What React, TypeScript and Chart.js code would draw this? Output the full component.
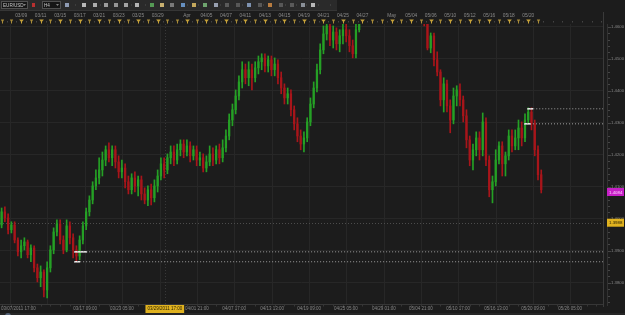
import React, { useEffect, useRef } from "react";
import Chart from "chart.js/auto";

// ---- data (EUR/USD, H4 candles, 3 per trading day) ----
const SYMBOL = "EUR/USD";
const PERIOD = "H4";

const OPEN = [
  1.3981, 1.4022, 1.4003, 1.3966, 1.3981, 1.3934, 1.3897, 1.3916, 1.3928, 1.3888,
  1.3909, 1.3847, 1.3816, 1.3834, 1.3778, 1.3847, 1.3903, 1.3959, 1.3984, 1.3934,
  1.3903, 1.3978, 1.3941, 1.3903, 1.3884, 1.3934, 1.3978, 1.4022, 1.4059, 1.4103,
  1.4128, 1.4153, 1.4184, 1.4216, 1.4191, 1.4216, 1.4178, 1.4147, 1.4159, 1.4116,
  1.4091, 1.4128, 1.4103, 1.4122, 1.4078, 1.4059, 1.4091, 1.4066, 1.4103, 1.4134,
  1.4172, 1.4153, 1.4191, 1.4209, 1.4184, 1.4216, 1.4234, 1.4209, 1.4228, 1.4197,
  1.4216, 1.4184, 1.4191, 1.4159, 1.4178, 1.4203, 1.4184, 1.4216, 1.4191, 1.4222,
  1.4259, 1.4309, 1.4341, 1.4384, 1.4428, 1.4466, 1.4441, 1.4466, 1.4441, 1.4472,
  1.4491, 1.4503, 1.4478, 1.4497, 1.4466, 1.4484, 1.4441, 1.4409, 1.4378, 1.4391,
  1.4341, 1.4297, 1.4259, 1.4234, 1.4253, 1.4303, 1.4359, 1.4409, 1.4466, 1.4528,
  1.4578, 1.4603, 1.4559, 1.4584, 1.4547, 1.4572, 1.4591, 1.4572, 1.4541, 1.4516,
  1.4591, 1.4653, 1.4690, 1.4675, 1.4720, 1.4745, 1.4780, 1.4805, 1.4835, 1.4820,
  1.4860, 1.4850, 1.4875, 1.4920, 1.4890, 1.4835, 1.4775, 1.4720, 1.4690, 1.4665,
  1.4650, 1.4622, 1.4534, 1.4572, 1.4497, 1.4459, 1.4372, 1.4422, 1.4353, 1.4309,
  1.4384, 1.4403, 1.4372, 1.4322, 1.4247, 1.4184, 1.4216, 1.4253, 1.4216, 1.4303,
  1.4184, 1.4091, 1.4116, 1.4184, 1.4228, 1.4172, 1.4197, 1.4259, 1.4228, 1.4253,
  1.4284, 1.4253, 1.4309, 1.4334, 1.4297, 1.4216, 1.4138,
];
const HIGH = [
  1.4034, 1.4038, 1.4016, 1.3991, 1.3991, 1.3941, 1.3934, 1.3941, 1.3934, 1.3919,
  1.3916, 1.3859, 1.3853, 1.3841, 1.3866, 1.3916, 1.3972, 1.3997, 1.3997, 1.3947,
  1.3997, 1.3991, 1.3953, 1.3916, 1.3947, 1.3991, 1.4034, 1.4072, 1.4116, 1.4153,
  1.4191, 1.4209, 1.4228, 1.4238, 1.4228, 1.4228, 1.4197, 1.4184, 1.4172, 1.4134,
  1.4141, 1.4147, 1.4134, 1.4134, 1.4097, 1.4103, 1.4109, 1.4122, 1.4153, 1.4191,
  1.4191, 1.4203, 1.4228, 1.4228, 1.4234, 1.4247, 1.4247, 1.4247, 1.4241, 1.4228,
  1.4228, 1.4209, 1.4203, 1.4197, 1.4228, 1.4222, 1.4228, 1.4234, 1.4247, 1.4278,
  1.4328, 1.4359, 1.4403, 1.4447, 1.4491, 1.4484, 1.4491, 1.4484, 1.4491, 1.4509,
  1.4516, 1.4516, 1.4509, 1.4509, 1.4503, 1.4497, 1.4459, 1.4422, 1.4409, 1.4403,
  1.4353, 1.4316, 1.4278, 1.4272, 1.4316, 1.4378, 1.4428, 1.4484, 1.4547, 1.4603,
  1.4628, 1.4616, 1.4603, 1.4597, 1.4591, 1.4609, 1.4616, 1.4591, 1.4559, 1.4628,
  1.4684, 1.4705, 1.4720, 1.4730, 1.4760, 1.4790, 1.4820, 1.4850, 1.4880, 1.4870,
  1.4900, 1.4890, 1.4935, 1.4940, 1.4915, 1.4860, 1.4800, 1.4745, 1.4710, 1.4700,
  1.4670, 1.4638, 1.4581, 1.4581, 1.4522, 1.4466, 1.4441, 1.4434, 1.4372, 1.4409,
  1.4416, 1.4422, 1.4384, 1.4341, 1.4259, 1.4234, 1.4272, 1.4272, 1.4331, 1.4316,
  1.4197, 1.4134, 1.4216, 1.4241, 1.4241, 1.4209, 1.4278, 1.4278, 1.4278, 1.4309,
  1.4303, 1.4328, 1.4347, 1.4347, 1.4309, 1.4228, 1.4153,
];
const LOW = [
  1.3972, 1.3991, 1.3953, 1.3956, 1.3925, 1.3884, 1.3878, 1.3903, 1.3878, 1.3866,
  1.3834, 1.3803, 1.3788, 1.3756, 1.3753, 1.3834, 1.3891, 1.3947, 1.3922, 1.3891,
  1.3897, 1.3922, 1.3878, 1.3866, 1.3872, 1.3922, 1.3966, 1.4009, 1.4047, 1.4091,
  1.4109, 1.4134, 1.4166, 1.4178, 1.4166, 1.4159, 1.4128, 1.4128, 1.4097, 1.4078,
  1.4078, 1.4084, 1.4072, 1.4059, 1.4047, 1.4041, 1.4044, 1.4053, 1.4084, 1.4122,
  1.4128, 1.4141, 1.4172, 1.4166, 1.4172, 1.4197, 1.4191, 1.4197, 1.4178, 1.4184,
  1.4166, 1.4166, 1.4147, 1.4147, 1.4166, 1.4166, 1.4172, 1.4172, 1.4178, 1.4209,
  1.4247, 1.4291, 1.4328, 1.4372, 1.4409, 1.4422, 1.4416, 1.4403, 1.4428, 1.4453,
  1.4466, 1.4459, 1.4459, 1.4447, 1.4447, 1.4422, 1.4391, 1.4359, 1.4359, 1.4322,
  1.4278, 1.4241, 1.4216, 1.4209, 1.4241, 1.4291, 1.4347, 1.4397, 1.4453, 1.4516,
  1.4559, 1.4541, 1.4534, 1.4528, 1.4522, 1.4547, 1.4553, 1.4522, 1.4503, 1.4503,
  1.4584, 1.4645, 1.4660, 1.4665, 1.4700, 1.4730, 1.4760, 1.4790, 1.4800, 1.4805,
  1.4830, 1.4820, 1.4860, 1.4870, 1.4820, 1.4760, 1.4700, 1.4660, 1.4640, 1.4630,
  1.4603, 1.4528, 1.4519, 1.4478, 1.4447, 1.4353, 1.4334, 1.4334, 1.4269, 1.4297,
  1.4353, 1.4353, 1.4303, 1.4222, 1.4166, 1.4153, 1.4197, 1.4184, 1.4197, 1.4166,
  1.4069, 1.4050, 1.4103, 1.4172, 1.4134, 1.4134, 1.4184, 1.4209, 1.4216, 1.4216,
  1.4228, 1.4241, 1.4297, 1.4278, 1.4197, 1.4122, 1.4081,
];
const CLOSE = [
  1.4022, 1.4003, 1.3966, 1.3981, 1.3934, 1.3897, 1.3916, 1.3928, 1.3888, 1.3909,
  1.3847, 1.3816, 1.3834, 1.3778, 1.3847, 1.3903, 1.3959, 1.3984, 1.3934, 1.3903,
  1.3978, 1.3941, 1.3903, 1.3884, 1.3934, 1.3978, 1.4022, 1.4059, 1.4103, 1.4128,
  1.4153, 1.4184, 1.4216, 1.4191, 1.4216, 1.4178, 1.4147, 1.4159, 1.4116, 1.4091,
  1.4128, 1.4103, 1.4122, 1.4078, 1.4059, 1.4091, 1.4066, 1.4103, 1.4134, 1.4172,
  1.4153, 1.4191, 1.4209, 1.4184, 1.4216, 1.4234, 1.4209, 1.4228, 1.4197, 1.4216,
  1.4184, 1.4191, 1.4159, 1.4178, 1.4203, 1.4184, 1.4216, 1.4191, 1.4222, 1.4259,
  1.4309, 1.4341, 1.4384, 1.4428, 1.4466, 1.4441, 1.4466, 1.4441, 1.4472, 1.4491,
  1.4503, 1.4478, 1.4497, 1.4466, 1.4484, 1.4441, 1.4409, 1.4378, 1.4391, 1.4341,
  1.4297, 1.4259, 1.4234, 1.4253, 1.4303, 1.4359, 1.4409, 1.4466, 1.4528, 1.4578,
  1.4603, 1.4559, 1.4584, 1.4547, 1.4572, 1.4591, 1.4572, 1.4541, 1.4516, 1.4591,
  1.4653, 1.4690, 1.4675, 1.4720, 1.4745, 1.4780, 1.4805, 1.4835, 1.4820, 1.4860,
  1.4850, 1.4875, 1.4920, 1.4890, 1.4835, 1.4775, 1.4720, 1.4690, 1.4665, 1.4650,
  1.4622, 1.4534, 1.4572, 1.4497, 1.4459, 1.4372, 1.4422, 1.4353, 1.4309, 1.4384,
  1.4403, 1.4372, 1.4322, 1.4247, 1.4184, 1.4216, 1.4253, 1.4216, 1.4303, 1.4184,
  1.4091, 1.4116, 1.4184, 1.4228, 1.4172, 1.4197, 1.4259, 1.4228, 1.4253, 1.4284,
  1.4253, 1.4309, 1.4334, 1.4297, 1.4216, 1.4138, 1.4091,
];

// price axis
const Y_MIN = 1.3734;
const Y_MAX = 1.4609;
const Y_TICKS = [1.38, 1.39, 1.4, 1.41, 1.42, 1.43, 1.44, 1.45, 1.46];
const X_MAX = 185;

// top date strip (candle index of each label)
const TOP_DATES = ["03/09", "03/11", "03/15", "03/17", "03/21", "03/23", "03/25", "03/29", "Apr",
  "04/05", "04/07", "04/11", "04/13", "04/15", "04/19", "04/21", "04/25", "04/27", "May",
  "05/04", "05/06", "05/10", "05/12", "05/16", "05/18", "05/20"];
const TOP_DATE_POS = [6, 12, 18, 24, 30, 36, 42, 48, 57, 63, 69, 75, 81, 87, 93, 99, 105, 111, 120,
  126, 132, 138, 144, 150, 156, 162];

// bottom time axis (candle index of each grid line / label)
const BOTTOM_POS = [2.6, 14.0, 25.7, 37.0, 48.7, 60.1, 71.5, 83.2, 94.6, 105.9, 117.6, 129.0, 140.4, 152.1, 163.5, 174.9];
const BOTTOM_LABELS = ["03/07/2011 17:00", "", "03/17 09:00", "03/23 05:00", "", "04/01 21:00", "04/07 17:00",
  "04/13 13:00", "04/19 09:00", "04/25 05:00", "04/29 01:00", "05/04 21:00", "05/10 17:00", "05/16 13:00",
  "05/20 09:00", "05/26 05:00"];

// horizontal level lines (price, start index, end of solid marker)
const LEVEL_PRICES = [1.4344, 1.4297, 1.3897, 1.3866];
const LEVEL_START = [161.7, 160.7, 22.3, 22.3];
const LEVEL_MARK_END = [163.5, 162.8, 26.3, 24.1];

// crosshair + price marker
const CROSS_INDEX = 50.2;
const CROSS_PRICE = 1.3988;
const CROSS_TIME = "03/29/2011 17:00";
const CURRENT_PRICE = 1.4084;

// ---- styles ----
const BG = "#1c1c1c";
const GRID = "#272727";
const UP = "#25a025";
const DOWN = "#a8151a";
const FONT = '"Liberation Sans", Arial, sans-serif';

const decoPlugin = {
  id: "deco",
  beforeDraw(chart: any) {
    const { ctx, width, height } = chart;
    const xs = chart.scales.x;
    ctx.save();
    ctx.fillStyle = BG;
    ctx.fillRect(0, 0, width, height);

    // toolbar
    ctx.fillStyle = "#2a2a2a";
    ctx.fillRect(0, 0, 337, 10);
    ctx.fillStyle = "#363636";
    ctx.fillRect(0, 10, 337, 1);
    const dropdown = (x: number, w: number, text: string) => {
      ctx.fillStyle = "#161616";
      ctx.fillRect(x, 1, w, 8);
      ctx.strokeStyle = "#505050";
      ctx.lineWidth = 1;
      ctx.strokeRect(x + 0.5, 1.5, w - 1, 7);
      ctx.fillStyle = "#c8c8c8";
      ctx.font = `4.6px ${FONT}`;
      ctx.textAlign = "left";
      ctx.textBaseline = "middle";
      ctx.fillText(text, x + 2, 5.3);
      ctx.fillStyle = "#808080";
      ctx.beginPath();
      ctx.moveTo(x + w - 5, 4);
      ctx.lineTo(x + w - 2, 4);
      ctx.lineTo(x + w - 3.5, 6);
      ctx.closePath();
      ctx.fill();
    };
    dropdown(1, 27, SYMBOL);
    ctx.fillStyle = "#b83030";
    ctx.fillRect(32, 3, 3, 4);
    dropdown(42, 19, PERIOD);
    const icons: [number, string][] = [
      [65, "#8e9ab2"], [82, "#b8b8b8"], [93, "#acacac"], [104, "#9c9c9c"], [114, "#969696"],
      [124, "#a4a4a4"], [135, "#b4b4b4"], [150, "#559a55"], [160, "#c8b070"], [170, "#7a7a7a"],
      [181, "#6690c0"], [192, "#c4a85c"], [203, "#6ea46e"], [214, "#98a0b0"], [225, "#5a5a5a"],
      [236, "#575757"], [247, "#7e92b0"], [258, "#575757"], [268, "#b87c40"], [279, "#575757"],
      [290, "#5a5a5a"], [301, "#8a9098"], [311, "#b8b8b8"],
    ];
    icons.forEach(([ix, c]) => {
      ctx.fillStyle = c;
      ctx.fillRect(ix, 3, 4, 4);
    });
    ctx.fillStyle = "#505050";
    [75, 100, 131, 145, 187, 198, 220, 242, 263, 285, 296, 306, 318, 330].forEach((sx) => ctx.fillRect(sx, 4.5, 1, 1));

    // top date strip
    ctx.font = `4.8px ${FONT}`;
    ctx.fillStyle = "#8a8a8a";
    ctx.textAlign = "center";
    ctx.textBaseline = "middle";
    TOP_DATES.forEach((t, k) => ctx.fillText(t, xs.getPixelForValue(TOP_DATE_POS[k]), 15.5));
    // daily markers
    for (let d = 0; d <= X_MAX; d += 3) {
      const px = Math.round(xs.getPixelForValue(d)) + 0.5;
      if (d < CLOSE.length) {
        const big = TOP_DATE_POS.indexOf(d) >= 0;
        ctx.fillStyle = big ? "#c9a43a" : "#a98c38";
        const hw = big ? 2.3 : 1.7;
        ctx.beginPath();
        ctx.moveTo(px - hw, 19.5);
        ctx.lineTo(px + hw, 19.5);
        ctx.lineTo(px, 22.5);
        ctx.closePath();
        ctx.fill();
        ctx.fillRect(px - 0.5, 21, 1, 2.5);
      }
      ctx.fillStyle = "#444444";
      const hx = Math.round(xs.getPixelForValue(d + 1.5));
      ctx.fillRect(hx, 21, 1, 1.5);
    }
    ctx.restore();
  },
  beforeDatasetsDraw(chart: any) {
    const { ctx, chartArea: a } = chart;
    const xs = chart.scales.x;
    const ys = chart.scales.y;
    ctx.save();
    ctx.strokeStyle = GRID;
    ctx.lineWidth = 1;
    BOTTOM_POS.forEach((p) => {
      const px = Math.round(xs.getPixelForValue(p)) + 0.5;
      ctx.beginPath();
      ctx.moveTo(px, a.top);
      ctx.lineTo(px, a.bottom);
      ctx.stroke();
    });
    // crosshair (faint)
    ctx.setLineDash([1, 2]);
    const cx = Math.round(xs.getPixelForValue(CROSS_INDEX)) + 0.5;
    const cy = Math.round(ys.getPixelForValue(CROSS_PRICE)) + 0.5;
    ctx.strokeStyle = "#383838";
    ctx.beginPath();
    ctx.moveTo(cx, a.top);
    ctx.lineTo(cx, a.bottom);
    ctx.stroke();
    ctx.strokeStyle = "#4c4c4c";
    ctx.beginPath();
    ctx.moveTo(a.left, cy);
    ctx.lineTo(a.right, cy);
    ctx.stroke();
    ctx.restore();
  },
  afterDraw(chart: any) {
    const { ctx, chartArea: a } = chart;
    const xs = chart.scales.x;
    const ys = chart.scales.y;
    ctx.save();
    // right axis strip
    ctx.fillStyle = "#3a3a3a";
    ctx.fillRect(a.right, 12, 1, 295);
    ctx.fillStyle = "#323232";
    ctx.fillRect(607, 24, 1, 282);
    for (let v = 1.374; v <= 1.4609; v += 0.002) {
      const py = Math.round(ys.getPixelForValue(v));
      const major = Math.abs(v * 100 - Math.round(v * 100)) < 0.01;
      ctx.fillStyle = "#464646";
      ctx.fillRect(608, py, major ? 3 : 2, 1);
    }
    // bottom axis
    ctx.fillStyle = "#363636";
    ctx.fillRect(0, a.bottom, a.right, 1);
    for (let d = 0; d <= X_MAX; d += 3) {
      const px = Math.round(xs.getPixelForValue(d));
      ctx.fillRect(px, a.bottom + 1, 1, 1.5);
    }
    ctx.font = `4.5px ${FONT}`;
    ctx.fillStyle = "#868686";
    ctx.textBaseline = "middle";
    ctx.textAlign = "left";
    BOTTOM_LABELS.forEach((t, k) => {
      if (!t) return;
      const w = ctx.measureText(t).width;
      const px = Math.max(1, xs.getPixelForValue(BOTTOM_POS[k]) - w / 2);
      ctx.fillText(t, px, 309);
    });
    // crosshair time label
    const cx = xs.getPixelForValue(CROSS_INDEX);
    const tw = ctx.measureText(CROSS_TIME).width + 4;
    ctx.fillStyle = "#e0b21f";
    ctx.fillRect(cx - tw / 2, 305, tw, 8);
    ctx.fillStyle = "#2a2200";
    ctx.fillText(CROSS_TIME, cx - tw / 2 + 2, 309.2);
    // price tags
    const tag = (price: number, fill: string, color: string) => {
      const py = ys.getPixelForValue(price);
      ctx.fillStyle = fill;
      ctx.fillRect(607, py - 4, 17, 8);
      ctx.fillStyle = color;
      ctx.font = `4.4px ${FONT}`;
      ctx.fillText(price.toFixed(4), 609, py + 0.3);
    };
    tag(CURRENT_PRICE, "#c61fc6", "#ffd4ff");
    tag(CROSS_PRICE, "#e0b21f", "#2a2200");
    // bottom strip
    ctx.fillStyle = "#262626";
    ctx.fillRect(0, 313, 625, 2);
    ctx.fillStyle = "#56657a";
    ctx.beginPath();
    ctx.arc(8, 316, 3, 0, Math.PI * 2);
    ctx.fill();
    ctx.restore();
  },
};

export default function App() {
  const ref = useRef<HTMLCanvasElement>(null);
  useEffect(() => {
    document.body.style.margin = "0";
    document.body.style.background = BG;
    const canvas = ref.current as HTMLCanvasElement;
    const idx = CLOSE.map((_, i) => i);
    const colors = CLOSE.map((c, i) => (c >= OPEN[i] ? UP : DOWN));
    const levelSets: any[] = [];
    LEVEL_PRICES.forEach((p, k) => {
      levelSets.push({
        type: "line",
        data: [{ x: LEVEL_START[k], y: p }, { x: X_MAX, y: p }],
        borderColor: "#a0a0a0",
        borderWidth: 1,
        borderDash: [1, 2],
        pointRadius: 0,
        fill: false,
        order: 0,
      });
      levelSets.push({
        type: "line",
        data: [{ x: LEVEL_START[k], y: p }, { x: LEVEL_MARK_END[k], y: p }],
        borderColor: "#f2f2f2",
        borderWidth: 1.5,
        pointRadius: 0,
        fill: false,
        order: 0,
      });
    });
    const chart = new Chart(canvas, {
      type: "bar",
      data: {
        datasets: [
          {
            type: "bar",
            data: idx.map((i) => ({ x: i, y: [LOW[i], HIGH[i]] })),
            backgroundColor: colors,
            borderWidth: 0,
            barThickness: 1,
            grouped: false,
            order: 2,
          },
          {
            type: "bar",
            data: idx.map((i) => ({ x: i, y: [OPEN[i], CLOSE[i]] })),
            backgroundColor: colors,
            borderWidth: 0,
            barThickness: 1.6,
            minBarLength: 1,
            grouped: false,
            order: 1,
          },
          ...levelSets,
        ],
      } as any,
      options: {
        responsive: false,
        maintainAspectRatio: false,
        devicePixelRatio: 1,
        animation: false,
        layout: { padding: { top: 24, bottom: 11, left: 0, right: 0 } },
        plugins: { legend: { display: false }, tooltip: { enabled: false } },
        events: [],
        scales: {
          x: {
            type: "linear",
            min: -0.5,
            max: X_MAX,
            offset: false,
            display: false,
            grid: { offset: false },
          },
          y: {
            type: "linear",
            position: "right",
            min: Y_MIN,
            max: Y_MAX,
            afterBuildTicks: (s: any) => {
              s.ticks = Y_TICKS.map((v) => ({ value: v }));
            },
            afterFit: (s: any) => {
              s.width = 22;
            },
            grid: { color: GRID, drawTicks: false },
            border: { display: true, color: "#3a3a3a" },
            ticks: {
              padding: 8,
              color: "#888888",
              font: { size: 4.3, family: FONT },
              callback: (v: any) => Number(v).toFixed(4),
            },
          },
        },
      } as any,
      plugins: [decoPlugin],
    });
    return () => chart.destroy();
  }, []);
  return (
    <div style={{ width: 625, height: 315, background: BG }}>
      <canvas ref={ref} width={625} height={315} style={{ display: "block", width: 625, height: 315 }} />
    </div>
  );
}
